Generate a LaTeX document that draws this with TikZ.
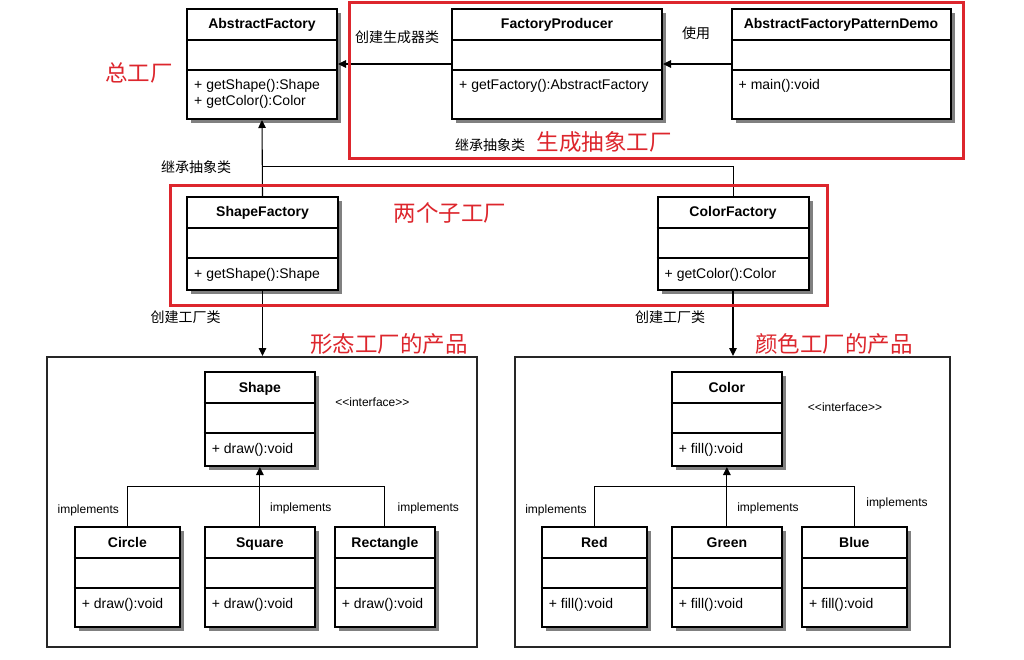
\documentclass[tikz,border=0pt]{standalone}
\usepackage{fontspec}
\setmainfont{Liberation Sans}
\newfontfamily\cjk{Noto Sans CJK SC}
\usetikzlibrary{arrows.meta,shadows,calc}
\definecolor{redc}{RGB}{221,38,45}
\definecolor{shadowc}{RGB}{128,128,128}
\tikzset{
 clsbox/.style={draw=black, line width=2pt, fill=white, drop shadow={shadow xshift=4pt,shadow yshift=-4pt,fill=shadowc,opacity=1}, inner sep=0pt, anchor=north west},
 divline/.style={line width=2pt},
 ctitle/.style={font=\fontsize{14}{16}\selectfont\bfseries, inner sep=0pt, anchor=base},
 cmeth/.style={font=\fontsize{14}{16}\selectfont, inner sep=0pt, anchor=base west},
 lbl/.style={font=\cjk\fontsize{14}{16}\selectfont, inner sep=0pt},
 redlbl/.style={font=\cjk\fontsize{22.5}{24}\selectfont, text=redc, inner sep=0pt},
 smalltxt/.style={font=\fontsize{12}{14}\selectfont, inner sep=0pt},
 redframe/.style={draw=redc, line width=3pt},
 container/.style={draw=black!85, line width=1.5pt, inner sep=0pt, anchor=north west},
 arr/.style={-{Triangle[length=8pt,width=7.5pt]}, line width=1.1pt},
 conn/.style={line width=1pt},
}
% name, x1, y1, x2, y2, title
\newcommand\umlcls[6]{%
 \node[clsbox, minimum width=#4pt-#2pt, minimum height=#5pt-#3pt] (#1) at (#2,#3) {};
 \draw[divline] ([yshift=-32pt]#1.north west) -- ([yshift=-32pt]#1.north east);
 \draw[divline] ([yshift=-62pt]#1.north west) -- ([yshift=-62pt]#1.north east);
 \node[ctitle] (#1-t) at ($(#1.north)+(0,21)$) {#6};
}
% name, method text
\newcommand\umlmeth[2]{%
 \node[cmeth] (#1-m) at ($(#1.north west)+(8,82)$) {#2};
}
\begin{document}
\begin{tikzpicture}[x=1pt,y=-1pt]
\useasboundingbox (0,0) rectangle (1024,660);
\fill[white] (0,0) rectangle (1024,660);

% containers
\node[container, minimum width=430pt, minimum height=290pt] (lc) at (46,356) {};
\node[container, minimum width=435pt, minimum height=290pt] (rc) at (514,356) {};

% top row
\umlcls{af}{186}{8}{336}{118}{AbstractFactory}
\node[cmeth] (af-m) at ($(af.north west)+(8,82)$) {+ getShape():Shape};
\node[cmeth] (af-m2) at ($(af.north west)+(8,97.4)$) {+ getColor():Color};
\umlcls{fp}{451}{8}{661}{118}{FactoryProducer}
\umlmeth{fp}{+ getFactory():AbstractFactory}
\umlcls{demo}{730.5}{8}{949.5}{118}{AbstractFactoryPatternDemo}
\umlmeth{demo}{+ main():void}

% factories
\umlcls{sf}{186}{196}{337}{289}{ShapeFactory}
\umlmeth{sf}{+ getShape():Shape}
\umlcls{cf}{656.5}{196}{807.5}{289}{ColorFactory}
\umlmeth{cf}{+ getColor():Color}

% shape products
\umlcls{shape}{203.7}{371}{314}{465}{Shape}
\umlmeth{shape}{+ draw():void}
\umlcls{circle}{73.7}{526}{179}{626}{Circle}
\umlmeth{circle}{+ draw():void}
\umlcls{square}{203.7}{526}{314}{626}{Square}
\umlmeth{square}{+ draw():void}
\umlcls{rectangle}{333.7}{526}{434}{626}{Rectangle}
\umlmeth{rectangle}{+ draw():void}

% color products
\umlcls{color}{670.7}{371}{781}{465}{Color}
\umlmeth{color}{+ fill():void}
\umlcls{red}{540.7}{526}{646}{626}{Red}
\umlmeth{red}{+ fill():void}
\umlcls{green}{670.7}{526}{781}{626}{Green}
\umlmeth{green}{+ fill():void}
\umlcls{blue}{801}{526}{905.7}{626}{Blue}
\umlmeth{blue}{+ fill():void}

% helper coordinates
\coordinate (yinh) at (0,167);
\coordinate (ybar) at (0,486);
\coordinate (jn) at (af.south |- yinh);

% connectors
\draw[arr] (fp.west) -- (af.east);
\draw[arr] (demo.west) -- (fp.east);
\draw[arr] (sf.north) -- (af.south);
\draw[conn] (cf.north) |- (jn);
\draw[arr] (sf.south) -- (sf.south |- lc.north);
\draw[arr] (cf.south) -- (cf.south |- rc.north);
\draw[arr] (square.north) -- (shape.south);
\draw[conn] (circle.north) |- (rectangle.north |- ybar) -- (rectangle.north);
\draw[arr] (green.north) -- (color.south);
\draw[conn] (red.north) |- (blue.north |- ybar) -- (blue.north);

% labels
\node[lbl] (l1) at (397,37) {创建生成器类};
\node[lbl] (l2) at (696,33) {使用};
\node[lbl] (l3) at (490,145.5) {继承抽象类};
\node[lbl] (l4) at (196,167) {继承抽象类};
\node[lbl] (l5) at (185.6,316.7) {创建工厂类};
\node[lbl] (l6) at (670,316.7) {创建工厂类};
\node[smalltxt] (i1) at (372.4,402.3) {<{}<interface>{}>};
\node[smalltxt] (i2) at (845,407.3) {<{}<interface>{}>};
\node[smalltxt] (m1) at (88.3,510.7) {implements};
\node[smalltxt] (m2) at (300.8,508.7) {implements};
\node[smalltxt] (m3) at (428.3,508.7) {implements};
\node[smalltxt] (m4) at (556,510.7) {implements};
\node[smalltxt] (m5) at (768,508.7) {implements};
\node[smalltxt] (m6) at (897,503.7) {implements};

% red annotations
\draw[redframe] (349,3) rectangle (963,159);
\draw[redframe] (170,186) rectangle (827,305);
\node[redlbl] (r1) at (139,72.5) {总工厂};
\node[redlbl] (r2) at (604,141.5) {生成抽象工厂};
\node[redlbl] (r3) at (450,213) {两个子工厂};
\node[redlbl] (r4) at (389,344) {形态工厂的产品};
\node[redlbl] (r5) at (834,344) {颜色工厂的产品};
\end{tikzpicture}
\end{document}
